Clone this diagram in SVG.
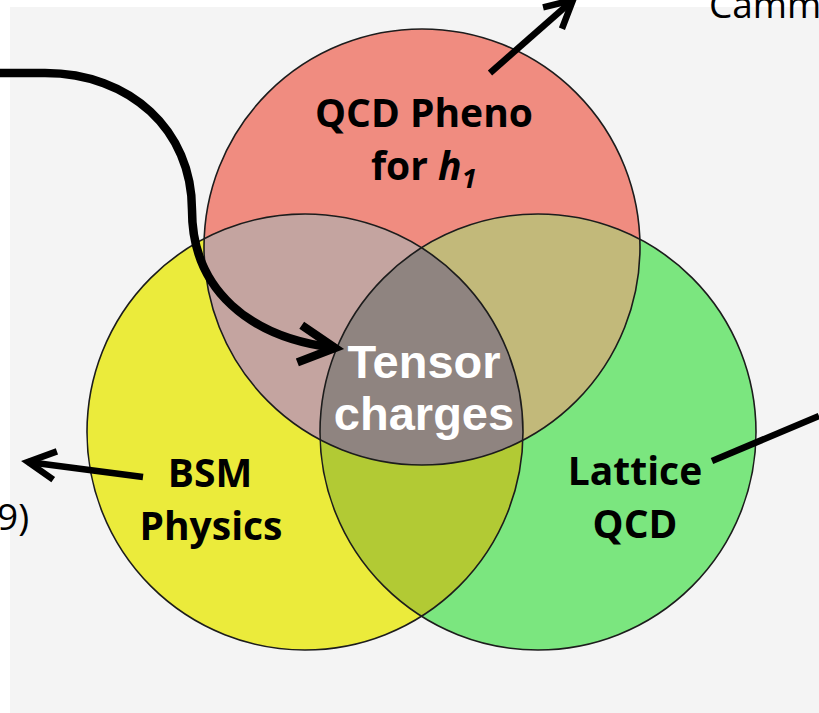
<svg xmlns="http://www.w3.org/2000/svg" width="819" height="713" viewBox="0 0 819 713">
<style>
.lbl{font-family:"Open Sans","Noto Sans",sans-serif;font-weight:700;font-size:39px;fill:#000;text-anchor:middle}
.side{font-family:"Open Sans","Noto Sans",sans-serif;font-size:37px;fill:#000}
.ctr{font-family:"Liberation Sans",Arial,sans-serif;font-weight:700;font-size:47px;fill:#fff;text-anchor:middle}
.edge{fill:none;stroke:#1c1c1c;stroke-width:1.6}
.arr{fill:none;stroke:#000;stroke-linecap:butt}
</style>
<defs>
<clipPath id="cR"><circle cx="422" cy="247" r="218"/></clipPath>
<clipPath id="cY"><circle cx="305" cy="432" r="218"/></clipPath>
<marker id="head" markerUnits="strokeWidth" markerWidth="10" markerHeight="10" refX="0" refY="0" orient="auto" overflow="visible">
<path d="M-4.2,-2.2 L0,0 L-4.2,2.2" fill="none" stroke="#000" stroke-width="1" stroke-linejoin="miter"/>
</marker>
</defs>
<rect x="0" y="0" width="819" height="713" fill="#ffffff"/>
<rect x="10" y="7" width="809" height="706" fill="#f4f4f4"/>

<g id="qcd-pheno">
<circle cx="422" cy="247" r="218" fill="#f08c80"/>
</g>
<g id="bsm">
<circle cx="305" cy="432" r="218" fill="#ebeb3b"/>
</g>
<g id="lattice">
<circle cx="538" cy="432" r="218" fill="#7be67f"/>
</g>
<g id="overlaps">
<circle cx="305" cy="432" r="218" fill="#c4a4a0" clip-path="url(#cR)"/>
<circle cx="538" cy="432" r="218" fill="#c2b97a" clip-path="url(#cR)"/>
<circle cx="538" cy="432" r="218" fill="#b2ca34" clip-path="url(#cY)"/>
<g clip-path="url(#cY)"><circle cx="538" cy="432" r="218" fill="#8f8480" clip-path="url(#cR)"/></g>
</g>
<g id="outlines">
<circle class="edge" cx="422" cy="247" r="218"/>
<circle class="edge" cx="305" cy="432" r="218"/>
<circle class="edge" cx="538" cy="432" r="218"/>
</g>

<g id="qcd-pheno-label">
<text class="lbl" x="424" y="127">QCD Pheno</text>
<text class="lbl" x="371" y="180" style="text-anchor:start">for <tspan font-style="italic">h</tspan><tspan font-style="italic" font-size="27px" dy="8">1</tspan></text>
</g>
<g id="bsm-label">
<text class="lbl" x="210" y="487">BSM</text>
<text class="lbl" x="211" y="540">Physics</text>
</g>
<g id="lattice-label">
<text class="lbl" x="635" y="485">Lattice</text>
<text class="lbl" x="635" y="538">QCD</text>
</g>
<g id="tensor">
<text class="ctr" x="424" y="378">Tensor</text>
<text class="ctr" x="424" y="430">charges</text>
</g>

<g id="side-texts">
<text class="side" x="709" y="18">Camm</text>
<text class="side" x="-3" y="530">9)</text>
</g>

<g id="connectors">
<path class="arr" d="M0,73 L45,73 C130,73 192,130 192,210 C192,290 250,338 335,348" stroke-width="8.5" marker-end="url(#head)"/>
<path class="arr" d="M490,73 L573,0" stroke-width="6.5" marker-end="url(#head)"/>
<path class="arr" d="M143,477 L28,462" stroke-width="6.5" marker-end="url(#head)"/>
<path class="arr" d="M712,461 L819,416" stroke-width="6.5"/>
</g>
</svg>
